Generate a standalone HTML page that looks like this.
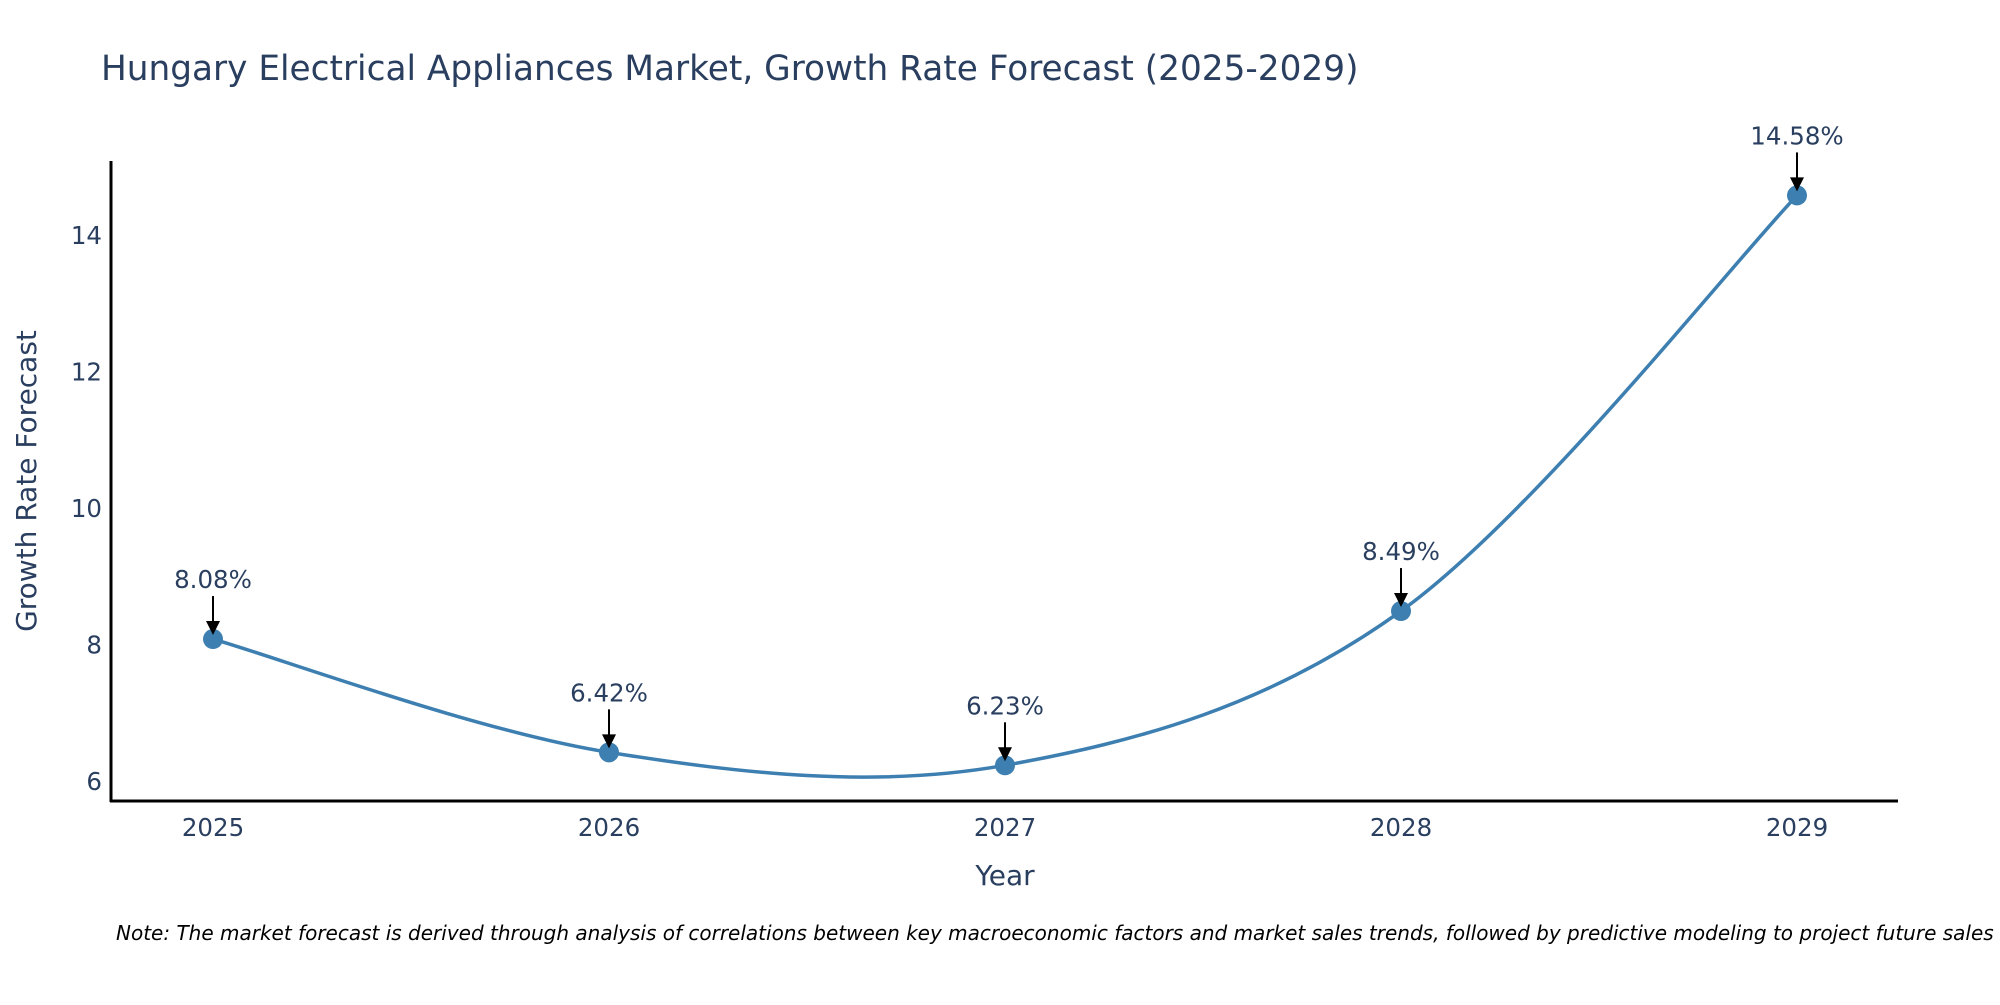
<!DOCTYPE html>
<html><head><meta charset="utf-8"><style>
body{margin:0;background:#fff;}
svg text{font-family:"DejaVu Sans","Liberation Sans",sans-serif;}
</style></head><body>
<svg id="chart" width="2000" height="1000" xmlns="http://www.w3.org/2000/svg">
<text x="101" y="80" font-size="34.3" fill="#2a3f5f">Hungary Electrical Appliances Market, Growth Rate Forecast (2025-2029)</text>
<line x1="111" y1="161" x2="111" y2="802" stroke="#000" stroke-width="3"/>
<line x1="110" y1="801" x2="1898" y2="801" stroke="#000" stroke-width="3"/>
<g id="yticks"></g><g id="xticks"></g>
<path id="line" fill="none" stroke="#3d7fb1" stroke-width="3.5"/>
<g id="points"></g><g id="annots"></g>
<text transform="translate(36,481) rotate(-90)" text-anchor="middle" font-size="28" fill="#2a3f5f">Growth Rate Forecast</text>
<text x="1005" y="885" text-anchor="middle" font-size="28" fill="#2a3f5f">Year</text>
<text x="116" y="940" font-size="20" font-style="italic" fill="#000">Note: The market forecast is derived through analysis of correlations between key macroeconomic factors and market sales trends, followed by predictive modeling to project future sales</text>
</svg>
<script>
const years=["2025","2026","2027","2028","2029"];
const values=[8.08,6.42,6.23,8.49,14.58];
const labels=["8.08%","6.42%","6.23%","8.49%","14.58%"];
const yTicks=[6,8,10,12,14];
const NS="http://www.w3.org/2000/svg";
function xs(i){return 213+i*(1797-213)/4;}
function ys(v){return 781-(v-6)*68.25;}
function mk(tag,attrs,parent){const e=document.createElementNS(NS,tag);for(const k in attrs)e.setAttribute(k,attrs[k]);document.getElementById(parent).appendChild(e);return e;}
yTicks.forEach(t=>{
 const e=mk('text',{x:102,y:ys(t)+9,'text-anchor':'end','font-size':24.5,fill:'#2a3f5f'},'yticks');
 
 
 e.textContent=t;
});
years.forEach((y,i)=>{
 const e=mk('text',{x:xs(i),y:836,'text-anchor':'middle','font-size':24.5,fill:'#2a3f5f'},'xticks');
 
 
 e.textContent=y;
});
const P=values.map((v,i)=>[xs(i),ys(v)]);
let d=`M${P[0][0]},${P[0][1]}`;
for(let i=0;i<P.length-1;i++){
 const p0=P[Math.max(0,i-1)],p1=P[i],p2=P[i+1],p3=P[Math.min(P.length-1,i+2)];
 const c1=[p1[0]+(p2[0]-p0[0])/6,p1[1]+(p2[1]-p0[1])/6];
 const c2=[p2[0]-(p3[0]-p1[0])/6,p2[1]-(p3[1]-p1[1])/6];
 d+=` C${c1[0]},${c1[1]} ${c2[0]},${c2[1]} ${p2[0]},${p2[1]}`;
}
document.getElementById('line').setAttribute('d',d);
P.forEach((p,i)=>{
 const c=mk('circle',{cx:p[0],cy:p[1],r:10,fill:'#3d7fb1'},'points');
 
 
 const a=mk('line',{x1:p[0],y1:p[1]-43,x2:p[0],y2:p[1]-16,stroke:'#000','stroke-width':2},'annots');
 
 
 const h=mk('polygon',{points:`${p[0]-7},${p[1]-18} ${p[0]+7},${p[1]-18} ${p[0]},${p[1]-4}`,fill:'#000'},'annots');
 
 
 const t=mk('text',{x:p[0],y:p[1]-51,'text-anchor':'middle','font-size':24.5,fill:'#2a3f5f'},'annots');
 
 
 t.textContent=labels[i];
});
</script>
</body></html>
